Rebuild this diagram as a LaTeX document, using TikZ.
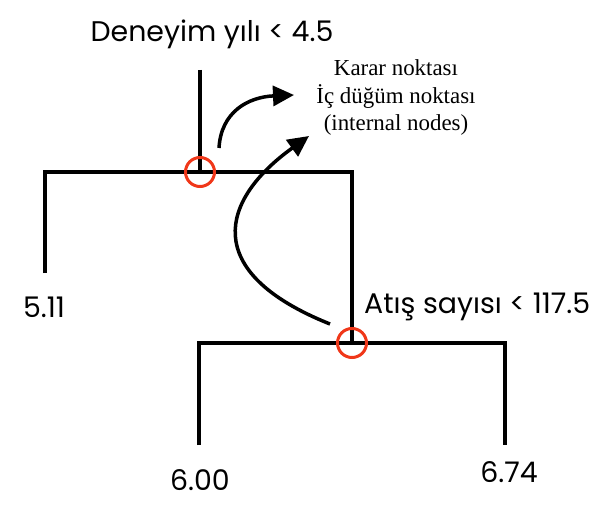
\documentclass[tikz,border=0pt]{standalone}
\usepackage{fontspec}
\setmainfont{Liberation Serif}
\newfontfamily\labfont{Poppins}
\usetikzlibrary{arrows.meta}
\definecolor{circred}{RGB}{240,55,25}
\begin{document}
\begin{tikzpicture}[x=1bp,y=-1bp,
  branch/.style={line width=4bp, line join=miter, line cap=butt, black},
  shadow/.style={line width=4bp, line join=miter, black!30, opacity=0.6},
  ring/.style={circle, draw=circred, line width=3bp, minimum size=29bp, inner sep=0pt},
  arr/.style={line width=3.5bp, -{Triangle[length=21bp,width=20bp]}},
  lab/.style={font=\labfont\fontsize{28.5}{34}\selectfont, inner sep=0pt},
  note/.style={font=\fontsize{23}{28}\selectfont, align=center, inner sep=0pt}]
\useasboundingbox (0,0) rectangle (605,523);
% coordinates
\coordinate (rtop) at (200,70);
\coordinate (n1) at (200,172);
\coordinate (l1) at (45,172);
\coordinate (l1e) at (45,273);
\coordinate (r1) at (352,172);
\coordinate (n2) at (352,343);
\coordinate (l2) at (199,343);
\coordinate (l2e) at (199,445);
\coordinate (r2) at (505,343);
\coordinate (r2e) at (505,445);
% shadows
\begin{scope}[shift={(2,2)}]
\draw[shadow] (rtop) -- (n1);
\draw[shadow] (l1e) -- (l1) -- (r1) -- (n2);
\draw[shadow] (l2e) -- (l2) -- (r2) -- (r2e);
\end{scope}
% tree
\draw[branch] (rtop) -- (n1);
\draw[branch] (l1e) -- (l1) -- (r1) -- (n2);
\draw[branch] (l2e) -- (l2) -- (r2) -- (r2e);
% rings
\node[ring] (c1) at (n1) {};
\node[ring] (c2) at (n2) {};
% labels
\node[lab, anchor=base] (t1) at (212,42) {Deneyim yılı < 4.5};
\node[lab, anchor=base west] (t2) at (364,313) {Atış sayısı < 117.5};
\node[lab, anchor=base] (v1) at (44,317) {5.11};
\node[lab, anchor=base] (v2) at (200,490) {6.00};
\node[lab, anchor=base] (v3) at (509,482) {6.74};
\node[note, anchor=base] (k) at (396,131) {Karar noktası\\İç düğüm noktası\\(internal nodes)};
% arrows
\coordinate (a1s) at (219,148);
\coordinate (a1e) at (294,95);
\coordinate (a2s) at (330,324);
\coordinate (a2e) at (309,136);
\draw[arr] (a1s) .. controls (221,112) and (248,97) .. (a1e);
\draw[arr] (a2s) .. controls (200,272) and (220,200) .. (a2e);
\end{tikzpicture}
\end{document}
